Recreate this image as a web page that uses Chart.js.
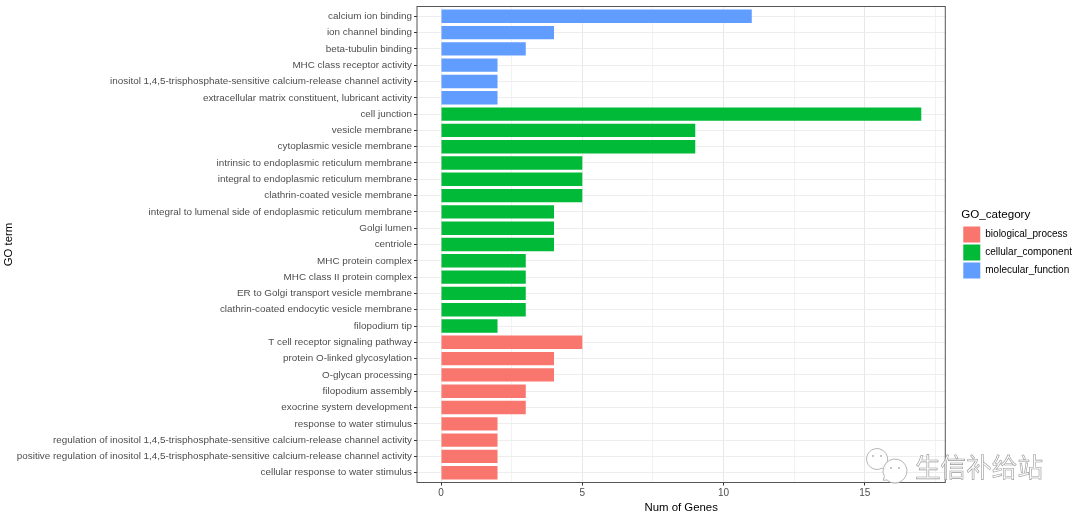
<!DOCTYPE html>
<html>
<head>
<meta charset="utf-8">
<script src="https://cdn.jsdelivr.net/npm/chart.js@4/dist/chart.umd.min.js"></script>
<style>
    html, body { margin: 0; padding: 0; background: #fff; }
    canvas { display: block; }
</style>
</head>
<body>
<canvas id="goChart" width="1080" height="515"></canvas>
<script>
// ===== DATA =====
const molecularTerms = ['calcium ion binding', 'ion channel binding', 'beta-tubulin binding', 'MHC class receptor activity',
    'inositol 1,4,5-trisphosphate-sensitive calcium-release channel activity', 'extracellular matrix constituent, lubricant activity'];
const molecularValues = [11, 4, 3, 2, 2, 2];

const cellularTerms = ['cell junction', 'vesicle membrane', 'cytoplasmic vesicle membrane', 'intrinsic to endoplasmic reticulum membrane',
    'integral to endoplasmic reticulum membrane', 'clathrin-coated vesicle membrane', 'integral to lumenal side of endoplasmic reticulum membrane',
    'Golgi lumen', 'centriole', 'MHC protein complex', 'MHC class II protein complex', 'ER to Golgi transport vesicle membrane',
    'clathrin-coated endocytic vesicle membrane', 'filopodium tip'];
const cellularValues = [17, 9, 9, 5, 5, 5, 4, 4, 4, 3, 3, 3, 3, 2];

const biologicalTerms = ['T cell receptor signaling pathway', 'protein O-linked glycosylation', 'O-glycan processing', 'filopodium assembly',
    'exocrine system development', 'response to water stimulus', 'regulation of inositol 1,4,5-trisphosphate-sensitive calcium-release channel activity',
    'positive regulation of inositol 1,4,5-trisphosphate-sensitive calcium-release channel activity', 'cellular response to water stimulus'];
const biologicalValues = [5, 4, 4, 3, 3, 2, 2, 2, 2];

const xTickValues = [0, 2.5, 5, 7.5, 10, 12.5, 15, 17.5];
const allTerms = molecularTerms.concat(cellularTerms, biologicalTerms);

const RED = '#F8766D', GREEN = '#00BA38', BLUE = '#619CFF';
const FONT = "'Liberation Sans', Arial, sans-serif";

function toPoints(terms, values) {
    return terms.map(function (term, i) {
        return { x: values[i], y: allTerms.indexOf(term) };
    });
}

// ===== LEGEND SPACER (gap between panel and legend) =====
const legendGap = {
    id: 'legendGap',
    beforeInit: function (chart) {
        Chart.layouts.addBox(chart, {
            position: 'right',
            weight: 500,
            fullSize: false,
            options: {},
            isHorizontal: function () { return false; },
            update: function (w, h) { this.width = 16; this.height = h; },
            draw: function () {},
            _layers: function () { return []; }
        });
    }
};

// ===== PANEL BORDER + WATERMARK =====
const panelBorder = {
    id: 'panelBorder',
    afterDatasetsDraw: function (chart) {
        const a = chart.chartArea, c = chart.ctx;
        c.save();
        c.strokeStyle = '#555555';
        c.lineWidth = 1;
        c.strokeRect(a.left, a.top, a.right - a.left, a.bottom - a.top);
        c.restore();
    }
};

const watermark = {
    id: 'watermark',
    afterDraw: function (chart) {
        const c = chart.ctx;
        c.save();
        c.strokeStyle = '#b5b5b5';
        c.lineWidth = 1;
        c.fillStyle = 'rgba(255,255,255,0.8)';
        [[877, 459, 10.5, 0.7], [895, 471, 12, 2.3]].forEach(function (b) {
            c.beginPath();
            c.arc(b[0], b[1], b[2], b[3] + 0.35, b[3] - 0.0 + Math.PI * 2);
            c.lineTo(b[0] + (b[2] + 3) * Math.cos(b[3] + 0.17) , b[1] + (b[2] + 3) * Math.sin(b[3] + 0.17));
            c.closePath();
            c.fill();
            c.stroke();
            c.save();
            c.fillStyle = '#b5b5b5';
            [-4, 4].forEach(function (d) {
                c.beginPath();
                c.arc(b[0] + d, b[1] - 3, 1, 0, Math.PI * 2);
                c.fill();
            });
            c.restore();
        });
        c.font = "25.6px 'Noto Sans CJK SC'";
        c.textBaseline = 'middle';
        c.fillStyle = 'rgba(255,255,255,0.8)';
        c.fillText('生信补给站', 915, 467);
        c.lineWidth = 0.6;
        c.strokeStyle = '#999999';
        c.strokeText('生信补给站', 915, 467);
        c.restore();
    }
};

// ===== CHART =====
new Chart(document.getElementById('goChart'), {
    type: 'bar',
    data: {
        datasets: [
            { label: 'biological_process', data: toPoints(biologicalTerms, biologicalValues), backgroundColor: RED },
            { label: 'cellular_component', data: toPoints(cellularTerms, cellularValues), backgroundColor: GREEN },
            { label: 'molecular_function', data: toPoints(molecularTerms, molecularValues), backgroundColor: BLUE }
        ]
    },
    options: {
        indexAxis: 'y',
        responsive: false,
        animation: false,
        grouped: false,
        barPercentage: 0.82,
        categoryPercentage: 1,
        layout: { padding: { top: 6.5, right: -2, bottom: 0, left: 0 } },
        plugins: {
            tooltip: { enabled: false },
            legend: {
                position: 'right',
                fullSize: false,
                title: {
                    display: true,
                    text: 'GO_category',
                    color: '#000',
                    position: 'start',
                    font: { family: FONT, size: 11.6 },
                    padding: { top: 0, bottom: 2 }
                },
                labels: {
                    boxWidth: 17,
                    boxHeight: 16,
                    padding: 2,
                    color: '#000',
                    font: { family: FONT, size: 10 }
                }
            }
        },
        scales: {
            x: {
                type: 'linear',
                offset: false,
                min: -0.85,
                max: 17.85,
                afterBuildTicks: function (axis) {
                    axis.ticks = xTickValues.map(function (v) { return { value: v }; });
                },
                afterFit: function (axis) { axis.height = 32.5; },
                grid: {
                    offset: false,
                    color: function (ctx) { return ctx.tick && ctx.tick.value % 5 === 0 ? '#E8E8E8' : '#F2F2F2'; },
                    tickColor: function (ctx) { return ctx.tick && ctx.tick.value % 5 === 0 ? '#333333' : 'rgba(0,0,0,0)'; },
                    tickLength: 3
                },
                border: { display: false },
                ticks: {
                    autoSkip: false,
                    maxRotation: 0,
                    padding: 2,
                    color: '#4D4D4D',
                    font: { family: FONT, size: 10 },
                    callback: function (value) { return value % 5 === 0 ? String(value) : ''; }
                },
                title: {
                    display: true,
                    text: 'Num of Genes',
                    color: '#000',
                    font: { family: FONT, size: 11.4 },
                    padding: { top: 0, bottom: 0 }
                }
            },
            y: {
                type: 'linear',
                offset: false,
                reverse: true,
                min: -0.6,
                max: allTerms.length - 0.4,
                afterBuildTicks: function (axis) {
                    axis.ticks = allTerms.map(function (term, i) { return { value: i }; });
                },
                afterFit: function (axis) {
                    axis.width = 417;
                    axis.paddingTop = 0;
                    axis.paddingBottom = 0;
                },
                grid: { offset: false, color: '#EDEDED', tickColor: '#333333', tickLength: 3 },
                border: { display: false },
                ticks: {
                    autoSkip: false,
                    padding: 2,
                    color: '#4D4D4D',
                    font: { family: FONT, size: 9.88 },
                    callback: function (value) { return allTerms[value]; }
                },
                title: {
                    display: true,
                    text: 'GO term',
                    color: '#000',
                    font: { family: FONT, size: 11.4 },
                    padding: { top: 2, bottom: 0 }
                }
            }
        }
    },
    plugins: [legendGap, panelBorder, watermark]
});
</script>
</body>
</html>
